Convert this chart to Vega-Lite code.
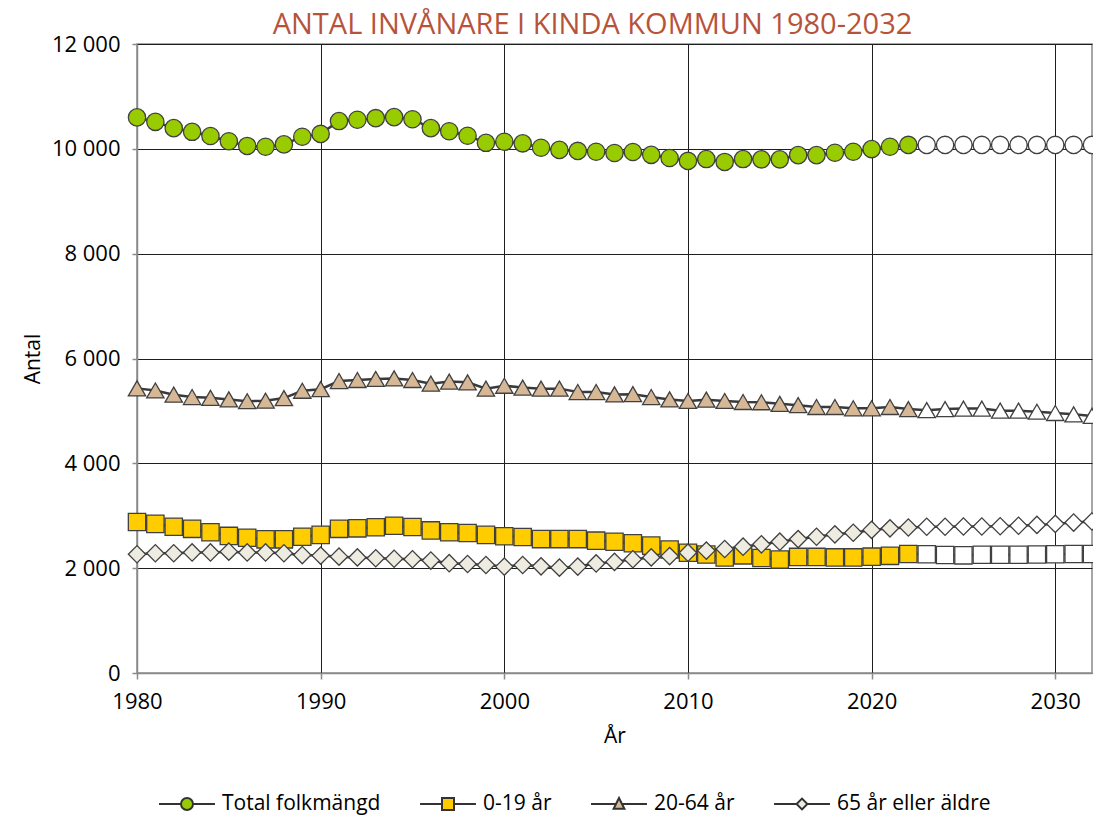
{
  "$schema": "https://vega.github.io/schema/vega-lite/v6.json",
  "width": 955,
  "height": 629,
  "autosize": "none",
  "padding": {"left": 137, "top": 44, "right": 1, "bottom": 146},
  "background": "white",
  "title": {
    "text": "ANTAL INVÅNARE I KINDA KOMMUN 1980-2032",
    "font": "Open Sans",
    "fontSize": 29,
    "fontWeight": "normal",
    "color": "#B8533B",
    "anchor": "middle",
    "dx": -22,
    "dy": 15,
    "offset": 8
  },
  "data": {
    "values": [
      {"year": 1980, "Total folkmängd": 10600, "0-19 år": 2880, "20-64 år": 5430, "65 år eller äldre": 2265},
      {"year": 1981, "Total folkmängd": 10515, "0-19 år": 2845, "20-64 år": 5390, "65 år eller äldre": 2285},
      {"year": 1982, "Total folkmängd": 10395, "0-19 år": 2790, "20-64 år": 5310, "65 år eller äldre": 2285},
      {"year": 1983, "Total folkmängd": 10325, "0-19 år": 2750, "20-64 år": 5265, "65 år eller äldre": 2300},
      {"year": 1984, "Total folkmängd": 10245, "0-19 år": 2685, "20-64 år": 5250, "65 år eller äldre": 2300},
      {"year": 1985, "Total folkmängd": 10145, "0-19 år": 2615, "20-64 år": 5220, "65 år eller äldre": 2315},
      {"year": 1986, "Total folkmängd": 10055, "0-19 år": 2580, "20-64 år": 5185, "65 år eller äldre": 2300},
      {"year": 1987, "Total folkmängd": 10040, "0-19 år": 2550, "20-64 år": 5195, "65 år eller äldre": 2300},
      {"year": 1988, "Total folkmängd": 10085, "0-19 år": 2550, "20-64 år": 5245, "65 år eller äldre": 2285},
      {"year": 1989, "Total folkmängd": 10230, "0-19 år": 2600, "20-64 år": 5385, "65 år eller äldre": 2250},
      {"year": 1990, "Total folkmängd": 10285, "0-19 år": 2635, "20-64 år": 5415, "65 år eller äldre": 2240},
      {"year": 1991, "Total folkmängd": 10530, "0-19 år": 2750, "20-64 år": 5570, "65 år eller äldre": 2220},
      {"year": 1992, "Total folkmängd": 10555, "0-19 år": 2760, "20-64 år": 5590, "65 år eller äldre": 2205},
      {"year": 1993, "Total folkmängd": 10585, "0-19 år": 2780, "20-64 år": 5610, "65 år eller äldre": 2190},
      {"year": 1994, "Total folkmängd": 10605, "0-19 år": 2810, "20-64 år": 5620, "65 år eller äldre": 2180},
      {"year": 1995, "Total folkmängd": 10565, "0-19 år": 2785, "20-64 år": 5590, "65 år eller äldre": 2170},
      {"year": 1996, "Total folkmängd": 10395, "0-19 år": 2720, "20-64 år": 5520, "65 år eller äldre": 2145},
      {"year": 1997, "Total folkmängd": 10335, "0-19 år": 2685, "20-64 år": 5560, "65 år eller äldre": 2095},
      {"year": 1998, "Total folkmängd": 10250, "0-19 år": 2670, "20-64 år": 5545, "65 år eller äldre": 2080},
      {"year": 1999, "Total folkmängd": 10115, "0-19 år": 2635, "20-64 år": 5425, "65 år eller äldre": 2060},
      {"year": 2000, "Total folkmängd": 10135, "0-19 år": 2610, "20-64 år": 5480, "65 år eller äldre": 2030},
      {"year": 2001, "Total folkmängd": 10105, "0-19 år": 2595, "20-64 år": 5445, "65 år eller äldre": 2060},
      {"year": 2002, "Total folkmängd": 10020, "0-19 år": 2555, "20-64 år": 5425, "65 år eller äldre": 2035},
      {"year": 2003, "Total folkmängd": 9980, "0-19 år": 2555, "20-64 år": 5425, "65 år eller äldre": 2010},
      {"year": 2004, "Total folkmängd": 9960, "0-19 år": 2555, "20-64 år": 5360, "65 år eller äldre": 2030},
      {"year": 2005, "Total folkmängd": 9945, "0-19 år": 2525, "20-64 år": 5360, "65 år eller äldre": 2090},
      {"year": 2006, "Total folkmängd": 9920, "0-19 år": 2505, "20-64 år": 5315, "65 år eller äldre": 2120},
      {"year": 2007, "Total folkmängd": 9940, "0-19 år": 2475, "20-64 år": 5320, "65 år eller äldre": 2170},
      {"year": 2008, "Total folkmängd": 9885, "0-19 år": 2430, "20-64 år": 5265, "65 år eller äldre": 2205},
      {"year": 2009, "Total folkmängd": 9825, "0-19 år": 2355, "20-64 år": 5220, "65 år eller äldre": 2230},
      {"year": 2010, "Total folkmängd": 9770, "0-19 år": 2295, "20-64 år": 5190, "65 år eller äldre": 2295},
      {"year": 2011, "Total folkmängd": 9805, "0-19 år": 2260, "20-64 år": 5215, "65 år eller äldre": 2335},
      {"year": 2012, "Total folkmängd": 9750, "0-19 år": 2205, "20-64 år": 5190, "65 år eller äldre": 2365},
      {"year": 2013, "Total folkmängd": 9805, "0-19 år": 2245, "20-64 år": 5170, "65 år eller äldre": 2410},
      {"year": 2014, "Total folkmängd": 9800, "0-19 år": 2195, "20-64 år": 5165, "65 år eller äldre": 2455},
      {"year": 2015, "Total folkmängd": 9800, "0-19 år": 2165, "20-64 år": 5135, "65 år eller äldre": 2505},
      {"year": 2016, "Total folkmängd": 9880, "0-19 år": 2215, "20-64 år": 5110, "65 år eller äldre": 2555},
      {"year": 2017, "Total folkmängd": 9880, "0-19 år": 2215, "20-64 år": 5075, "65 år eller äldre": 2600},
      {"year": 2018, "Total folkmängd": 9925, "0-19 år": 2205, "20-64 år": 5075, "65 år eller äldre": 2645},
      {"year": 2019, "Total folkmängd": 9945, "0-19 år": 2205, "20-64 år": 5050, "65 år eller äldre": 2675},
      {"year": 2020, "Total folkmängd": 9995, "0-19 år": 2220, "20-64 år": 5050, "65 år eller äldre": 2730},
      {"year": 2021, "Total folkmängd": 10040, "0-19 år": 2235, "20-64 år": 5075, "65 år eller äldre": 2760},
      {"year": 2022, "Total folkmängd": 10075, "0-19 år": 2270, "20-64 år": 5035, "65 år eller äldre": 2775},
      {"year": 2023, "Total folkmängd": 10075, "0-19 år": 2265, "20-64 år": 5015, "65 år eller äldre": 2790},
      {"year": 2024, "Total folkmängd": 10075, "0-19 år": 2250, "20-64 år": 5035, "65 år eller äldre": 2790},
      {"year": 2025, "Total folkmängd": 10075, "0-19 år": 2245, "20-64 år": 5045, "65 år eller äldre": 2795},
      {"year": 2026, "Total folkmängd": 10075, "0-19 år": 2255, "20-64 år": 5045, "65 år eller äldre": 2795},
      {"year": 2027, "Total folkmängd": 10075, "0-19 år": 2255, "20-64 år": 5005, "65 år eller äldre": 2800},
      {"year": 2028, "Total folkmängd": 10075, "0-19 år": 2255, "20-64 år": 5005, "65 år eller äldre": 2810},
      {"year": 2029, "Total folkmängd": 10075, "0-19 år": 2260, "20-64 år": 4985, "65 år eller äldre": 2825},
      {"year": 2030, "Total folkmängd": 10075, "0-19 år": 2265, "20-64 år": 4960, "65 år eller äldre": 2845},
      {"year": 2031, "Total folkmängd": 10075, "0-19 år": 2270, "20-64 år": 4935, "65 år eller äldre": 2870},
      {"year": 2032, "Total folkmängd": 10075, "0-19 år": 2270, "20-64 år": 4905, "65 år eller äldre": 2890}
    ]
  },
  "transform": [
    {"fold": ["Total folkmängd", "0-19 år", "20-64 år", "65 år eller äldre"], "as": ["serie", "antal"]}
  ],
  "encoding": {
    "x": {
      "field": "year",
      "type": "quantitative",
      "scale": {"domain": [1980, 2032], "nice": false, "zero": false},
      "axis": {
        "title": "År",
        "values": [1980, 1990, 2000, 2010, 2020, 2030],
        "format": "d",
        "labelFontSize": 22,
        "labelPadding": 12,
        "labelFlush": false,
        "tickSize": 6,
        "titlePadding": 13
      }
    },
    "y": {
      "field": "antal",
      "type": "quantitative",
      "scale": {"domain": [0, 12000], "nice": false},
      "axis": {
        "title": "Antal",
        "values": [0, 2000, 4000, 6000, 8000, 10000, 12000],
        "labelExpr": "replace(format(datum.value, ','), ',', ' ')",
        "labelFontSize": 22,
        "labelPadding": 12,
        "tickSize": 5,
        "titlePadding": 8
      }
    }
  },
  "layer": [
    {
      "mark": {"type": "line", "color": "#3a3a3a", "strokeWidth": 2.5},
      "encoding": {"detail": {"field": "serie"}}
    },
    {
      "transform": [{"filter": "datum.year <= 2022"}],
      "mark": {"type": "point", "filled": true, "size": 300, "stroke": "#404040", "strokeWidth": 1.3, "opacity": 1},
      "encoding": {
        "shape": {
          "field": "serie",
          "type": "nominal",
          "scale": {"domain": ["Total folkmängd", "0-19 år", "20-64 år", "65 år eller äldre"], "range": ["circle", "square", "triangle-up", "diamond"]},
          "legend": null
        },
        "fill": {
          "field": "serie",
          "type": "nominal",
          "scale": {"domain": ["Total folkmängd", "0-19 år", "20-64 år", "65 år eller äldre"], "range": ["#99CC00", "#FFCC00", "#D6B896", "#EEECE1"]},
          "legend": null
        }
      }
    },
    {
      "transform": [{"filter": "datum.year >= 2023"}],
      "mark": {"type": "point", "filled": true, "size": 300, "fill": "#FFFFFF", "stroke": "#404040", "strokeWidth": 1.3, "opacity": 1},
      "encoding": {
        "shape": {
          "field": "serie",
          "type": "nominal",
          "scale": {"domain": ["Total folkmängd", "0-19 år", "20-64 år", "65 år eller äldre"], "range": ["circle", "square", "triangle-up", "diamond"]},
          "legend": null
        }
      }
    },
    {
      "transform": [{"filter": "datum.year < 0"}],
      "mark": {"type": "point", "filled": true, "stroke": "#333333", "strokeWidth": 2},
      "encoding": {
        "shape": {
          "field": "serie",
          "type": "nominal",
          "scale": {
            "domain": ["Total folkmängd", "0-19 år", "20-64 år", "65 år eller äldre"],
            "range": [
              "M-2.33,0H-0.5A0.5,0.5,0,1,1,0.5,0A0.5,0.5,0,1,1,-0.5,0M0.5,0H2.33",
              "M-2.33,0H-0.5V-0.5H0.5V0.5H-0.5V0M0.5,0H2.33",
              "M-2.33,0H-0.25L0,-0.5L0.45,0.4H-0.45L-0.25,0M0.25,0H2.33",
              "M-2.33,0H-0.45L0,-0.45L0.45,0L0,0.45L-0.45,0M0.45,0H2.33"
            ]
          },
          "legend": {
            "orient": "none",
            "legendX": 37,
            "legendY": 747,
            "direction": "horizontal",
            "title": null,
            "symbolSize": 576,
            "symbolStrokeWidth": 2,
            "symbolStrokeColor": "#333333",
            "symbolOpacity": 1,
            "labelFont": "Open Sans",
            "labelFontSize": 21,
            "labelColor": "#000000",
            "labelOffset": 22,
            "columnPadding": 35,
            "labelLimit": 400,
            "encode": {
              "symbols": {
                "update": {
                  "stroke": {"value": "#333333"},
                  "strokeWidth": {"value": 2},
                  "opacity": {"value": 1}
                }
              }
            }
          }
        },
        "fill": {
          "field": "serie",
          "type": "nominal",
          "scale": {"domain": ["Total folkmängd", "0-19 år", "20-64 år", "65 år eller äldre"], "range": ["#99CC00", "#FFCC00", "#D6B896", "#EEECE1"]},
          "legend": {
            "orient": "none",
            "legendX": 37,
            "legendY": 747,
            "direction": "horizontal",
            "title": null,
            "symbolSize": 576,
            "symbolStrokeWidth": 2,
            "symbolStrokeColor": "#333333",
            "symbolOpacity": 1,
            "labelFont": "Open Sans",
            "labelFontSize": 21,
            "labelColor": "#000000",
            "labelOffset": 22,
            "columnPadding": 35,
            "labelLimit": 400,
            "encode": {
              "symbols": {
                "update": {
                  "stroke": {"value": "#333333"},
                  "strokeWidth": {"value": 2},
                  "opacity": {"value": 1}
                }
              }
            }
          }
        }
      }
    }
  ],
  "resolve": {"scale": {"shape": "independent", "fill": "independent"}},
  "config": {
    "font": "Open Sans",
    "view": {"stroke": "#8a8a8a", "strokeWidth": 1.5},
    "axis": {
      "labelFont": "Open Sans",
      "labelColor": "#000000",
      "titleFont": "Open Sans",
      "titleFontSize": 21,
      "titleFontWeight": "normal",
      "titleColor": "#000000",
      "domainColor": "#8a8a8a",
      "domainWidth": 1.5,
      "tickColor": "#8a8a8a",
      "tickWidth": 1.5,
      "grid": true,
      "gridColor": "#1e1e1e",
      "gridWidth": 1
    }
  }
}
